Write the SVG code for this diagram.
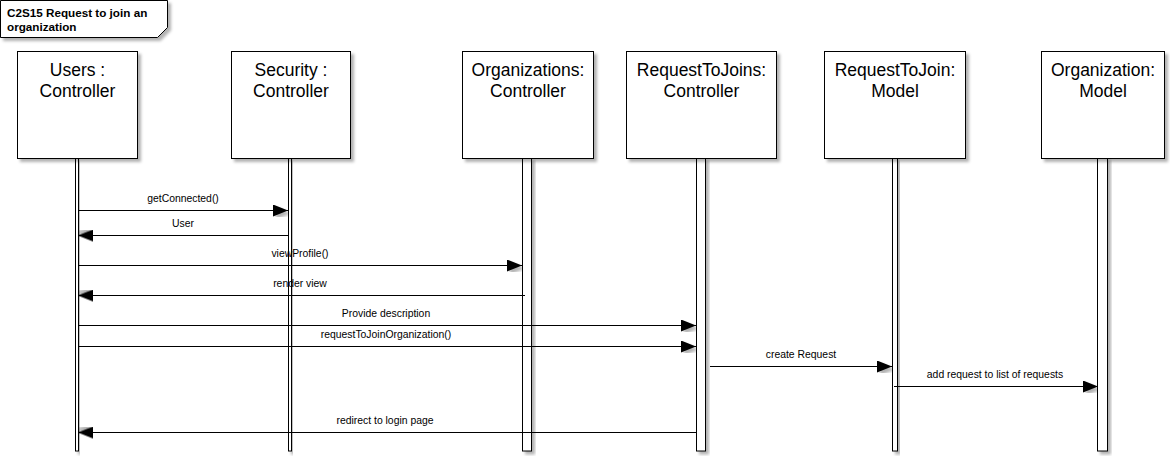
<svg xmlns="http://www.w3.org/2000/svg" width="1170" height="456" viewBox="0 0 1170 456">
<style>
  .box { fill: #ffffff; stroke: #000000; stroke-width: 1; filter: url(#shadow); }
  .bar { fill: #ffffff; stroke: #000000; stroke-width: 1; filter: url(#shadow); }
  .hdr { font-family: "Liberation Sans", Arial, sans-serif; font-size: 17.5px; fill: #000000; text-anchor: middle; }
  .title { font-family: "Liberation Sans", Arial, sans-serif; font-size: 11.7px; font-weight: bold; fill: #000000; }
  .msg { stroke: #000000; stroke-width: 1; fill: none; marker-end: url(#arrow); }
  .lbl { font-family: "Liberation Sans", Arial, sans-serif; font-size: 10.4px; fill: #000000; text-anchor: middle; }
</style>
<defs>
  <filter id="shadow" x="-20%" y="-20%" width="160%" height="160%">
    <feDropShadow dx="3" dy="3" stdDeviation="1.5" flood-color="#000000" flood-opacity="0.3"/>
  </filter>
  <marker id="arrow" viewBox="0 0 15 12" refX="15" refY="6" markerUnits="userSpaceOnUse" markerWidth="15" markerHeight="12" orient="auto">
    <path d="M0,0 L15,6 L0,12 Z" fill="#000000" filter="url(#shadow)"/>
  </marker>
</defs>
<rect width="1170" height="456" fill="#ffffff"/>

<g id="title">
  <polygon class="box" points="0.5,0.5 167.5,0.5 167.5,27.5 157.5,37.5 0.5,37.5"/>
  <text class="title" x="7" y="17">C2S15 Request to join an</text>
  <text class="title" x="7" y="31">organization</text>
</g>

<g id="users">
  <rect class="bar" x="75.5" y="158" width="3" height="293"/>
  <rect class="box" x="17.5" y="51.5" width="120" height="107"/>
  <text class="hdr" x="77.5" y="76">Users :</text>
  <text class="hdr" x="77.5" y="97">Controller</text>
</g>

<g id="security">
  <rect class="bar" x="288.5" y="158" width="3" height="293"/>
  <rect class="box" x="231.5" y="51.5" width="119" height="107"/>
  <text class="hdr" x="291" y="76">Security :</text>
  <text class="hdr" x="291" y="97">Controller</text>
</g>

<g id="organizations">
  <rect class="bar" x="522.5" y="158" width="9" height="293"/>
  <rect class="box" x="462.5" y="51.5" width="131" height="107"/>
  <text class="hdr" x="528" y="76">Organizations:</text>
  <text class="hdr" x="528" y="97">Controller</text>
</g>

<g id="requesttojoins">
  <rect class="bar" x="696.5" y="158" width="9" height="293"/>
  <rect class="box" x="626.5" y="51.5" width="150" height="107"/>
  <text class="hdr" x="701.5" y="76">RequestToJoins:</text>
  <text class="hdr" x="701.5" y="97">Controller</text>
</g>

<g id="requesttojoin">
  <rect class="bar" x="892.5" y="158" width="5" height="293"/>
  <rect class="box" x="824.5" y="51.5" width="141" height="107"/>
  <text class="hdr" x="895" y="76">RequestToJoin:</text>
  <text class="hdr" x="895" y="97">Model</text>
</g>

<g id="organization">
  <rect class="bar" x="1097.5" y="158" width="10" height="293"/>
  <rect class="box" x="1041.5" y="51.5" width="123" height="107"/>
  <text class="hdr" x="1103" y="76">Organization:</text>
  <text class="hdr" x="1103" y="97">Model</text>
</g>

<g id="connectors">
  <line class="msg" x1="78" y1="210.5" x2="288" y2="210.5"/>
  <text class="lbl" x="183" y="202">getConnected()</text>

  <line class="msg" x1="289" y1="235.5" x2="78" y2="235.5"/>
  <text class="lbl" x="183" y="226.5">User</text>

  <line class="msg" x1="78" y1="265.5" x2="522" y2="265.5"/>
  <text class="lbl" x="300" y="257">viewProfile()</text>

  <line class="msg" x1="525" y1="295.5" x2="78" y2="295.5"/>
  <text class="lbl" x="300" y="287">render view</text>

  <line class="msg" x1="78" y1="325.5" x2="696" y2="325.5"/>
  <text class="lbl" x="386" y="317">Provide description</text>

  <line class="msg" x1="78" y1="346.5" x2="696" y2="346.5"/>
  <text class="lbl" x="386" y="338">requestToJoinOrganization()</text>

  <line class="msg" x1="710" y1="366.5" x2="892" y2="366.5"/>
  <text class="lbl" x="801" y="358">create Request</text>

  <line class="msg" x1="894" y1="386.5" x2="1098" y2="386.5"/>
  <text class="lbl" x="995" y="378">add request to list of requests</text>

  <line class="msg" x1="696" y1="432.5" x2="78" y2="432.5"/>
  <text class="lbl" x="385" y="424">redirect to login page</text>
</g>
</svg>
